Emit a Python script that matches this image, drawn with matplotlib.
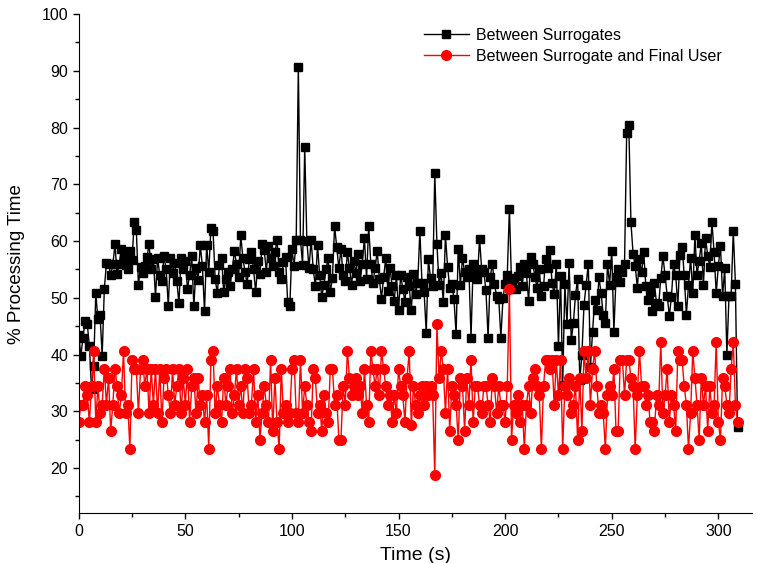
import numpy as np
import matplotlib
matplotlib.use("Agg")
import matplotlib.pyplot as plt
from matplotlib.ticker import MultipleLocator

plt.rcParams["font.family"] = ["Liberation Sans", "DejaVu Sans"]

# time in seconds, one sample per second
time_s = np.arange(310)

# % processing time between surrogates
between_surrogates = [
    43.5, 39.8, 43.0, 46.0, 45.4, 41.5, 34.0, 38.0, 50.8, 46.2,
    47.0, 39.8, 51.5, 56.2, 56.0, 54.0, 55.9, 59.4, 54.2, 56.0,
    58.6, 57.0, 55.8, 55.0, 58.2, 56.6, 63.3, 62.0, 52.3, 55.5,
    54.3, 55.6, 57.2, 59.4, 55.0, 56.8, 50.2, 57.0, 54.0, 53.0,
    57.3, 55.0, 48.6, 57.0, 54.3, 56.2, 53.0, 49.0, 57.0, 55.0,
    56.5, 51.6, 54.0, 57.3, 48.5, 55.2, 53.2, 59.3, 55.6, 47.6,
    59.3, 54.6, 62.3, 61.8, 53.3, 50.8, 55.8, 57.0, 51.0, 53.4,
    54.6, 52.1, 55.0, 58.2, 56.0, 53.6, 61.0, 57.0, 54.6, 52.5,
    56.8, 58.0, 55.0, 51.0, 56.5, 54.2, 59.4, 58.4, 54.6, 59.2,
    57.0, 55.6, 58.0, 60.2, 54.6, 53.4, 56.3, 57.2, 49.2, 48.5,
    58.6, 55.6, 60.2, 90.7, 60.2, 55.8, 76.6, 60.0, 55.2, 60.2,
    55.0, 52.0, 59.3, 54.0, 50.2, 52.3, 55.0, 57.0, 51.0, 53.5,
    62.6, 59.0, 55.2, 58.6, 54.0, 53.0, 58.0, 55.2, 52.3, 56.5,
    54.3, 57.8, 53.0, 56.0, 60.6, 53.4, 62.6, 56.0, 52.6, 55.3,
    58.2, 53.4, 49.8, 53.6, 57.0, 51.2, 55.3, 52.0, 49.5, 54.0,
    47.8, 54.0, 51.6, 49.3, 53.7, 52.0, 47.9, 54.2, 50.7, 52.6,
    61.8, 52.6, 51.0, 43.8, 56.8, 53.5, 52.0, 72.0, 59.5, 52.3,
    54.3, 49.2, 61.0, 55.5, 51.8, 52.5, 49.8, 43.6, 58.6, 52.3,
    57.0, 54.5, 53.7, 55.0, 43.0, 56.0, 54.3, 53.3, 60.4, 55.0,
    54.6, 51.3, 43.0, 53.7, 56.0, 52.4, 50.3, 49.8, 43.0, 50.0,
    52.5, 54.0, 65.7, 52.4, 53.5, 51.6, 53.8, 55.4, 52.0, 56.0,
    54.3, 49.4, 57.2, 56.0, 53.6, 51.8, 55.0, 50.3, 52.0, 56.8,
    55.2, 58.4, 52.6, 50.6, 56.0, 41.5, 53.8, 34.6, 52.4, 45.4,
    56.2, 42.5, 45.5, 50.5, 53.4, 35.5, 40.0, 48.8, 52.3, 56.0,
    37.8, 44.0, 49.6, 47.8, 53.6, 50.8, 47.0, 45.6, 56.0, 52.3,
    58.3, 44.0, 53.6, 55.0, 52.8, 54.6, 56.0, 79.0, 80.5, 63.3,
    57.8, 55.6, 51.8, 56.8, 54.5, 58.0, 52.0, 49.6, 51.0, 47.6,
    52.6, 49.0, 48.6, 53.5, 57.3, 54.0, 50.4, 46.8, 50.2, 56.0,
    54.0, 48.5, 57.6, 59.0, 54.0, 47.0, 52.2, 57.0, 50.8, 61.0,
    54.0, 56.5, 59.6, 52.2, 60.6, 57.4, 55.5, 63.4, 58.0, 50.8,
    55.6, 59.2, 50.3, 55.2, 40.0, 50.3, 50.4, 61.8, 52.5, 27.3,
]

# % processing time between surrogate and final user
surrogate_to_user = [
    28.1, 31.2, 31.2, 34.4, 32.8, 28.1, 34.4, 40.6, 28.1, 34.4,
    29.7, 31.2, 37.5, 31.2, 35.9, 26.6, 31.2, 37.5, 34.4, 29.7,
    32.8, 40.6, 29.7, 31.2, 23.4, 39.1, 37.5, 37.5, 29.7, 37.5,
    39.1, 34.4, 37.5, 29.7, 37.5, 31.2, 37.5, 29.7, 37.5, 28.1,
    35.9, 37.5, 32.8, 29.7, 37.5, 31.2, 34.4, 37.5, 29.7, 35.9,
    31.2, 37.5, 28.1, 34.4, 35.9, 29.7, 35.9, 31.2, 32.8, 28.1,
    32.8, 23.4, 39.1, 40.6, 29.7, 34.4, 31.2, 28.1, 35.9, 31.2,
    34.4, 37.5, 29.7, 32.8, 37.5, 31.2, 34.4, 29.7, 37.5, 35.9,
    29.7, 31.2, 37.5, 28.1, 32.8, 25.0, 29.7, 34.4, 31.2, 28.1,
    39.1, 26.6, 35.9, 28.1, 23.4, 37.5, 29.7, 31.2, 28.1, 29.7,
    37.5, 39.1, 29.7, 28.1, 39.1, 29.7, 34.4, 31.2, 28.1, 26.6,
    37.5, 35.9, 29.7, 31.2, 26.6, 32.8, 29.7, 28.1, 37.5, 37.5,
    31.2, 32.8, 25.0, 25.0, 34.4, 31.2, 40.6, 35.9, 32.8, 34.4,
    35.9, 32.8, 34.4, 29.7, 37.5, 31.2, 28.1, 40.6, 37.5, 34.4,
    37.5, 32.8, 40.6, 37.5, 34.4, 31.2, 32.8, 28.1, 32.8, 29.7,
    37.5, 34.4, 32.8, 28.1, 35.9, 40.6, 27.5, 34.4, 31.2, 29.7,
    32.8, 34.4, 31.2, 34.4, 32.8, 34.4, 32.8, 18.8, 45.3, 35.9,
    40.6, 37.5, 29.7, 37.5, 26.6, 34.4, 32.8, 31.2, 25.0, 35.9,
    34.4, 26.6, 35.9, 31.2, 39.1, 28.1, 34.4, 34.4, 31.2, 29.7,
    34.4, 34.4, 31.2, 28.1, 35.9, 34.4, 29.7, 34.4, 31.2, 31.2,
    28.1, 34.4, 51.6, 25.0, 31.2, 29.7, 32.8, 28.1, 31.2, 23.4,
    31.2, 34.4, 29.7, 35.9, 37.5, 34.4, 32.8, 23.4, 34.4, 39.1,
    39.1, 37.5, 39.1, 31.2, 39.1, 32.8, 39.1, 23.4, 34.4, 32.8,
    35.9, 29.7, 31.2, 34.4, 25.0, 35.9, 26.6, 40.6, 35.9, 40.6,
    31.2, 37.5, 40.6, 34.4, 29.7, 31.2, 29.7, 23.4, 32.8, 34.4,
    32.8, 37.5, 26.6, 26.6, 39.1, 39.1, 32.8, 39.1, 39.1, 35.9,
    34.4, 23.4, 32.8, 40.6, 34.4, 34.4, 31.2, 32.8, 28.1, 28.1,
    26.6, 32.8, 31.2, 42.2, 29.7, 32.8, 37.5, 28.1, 32.8, 31.2,
    26.6, 40.6, 39.1, 39.1, 34.4, 31.2, 23.4, 29.7, 40.6, 35.9,
    31.2, 25.0, 35.9, 31.2, 34.4, 26.6, 34.4, 29.7, 31.2, 42.2,
    28.1, 25.0, 35.9, 34.4, 31.2, 29.7, 37.5, 42.2, 31.2, 28.1,
]

fig = plt.figure(figsize=(7.57, 5.63), dpi=100)
ax = fig.add_axes([0.104, 0.088, 0.890, 0.887])

ax.plot(time_s, between_surrogates, color="black", lw=1.0, marker="s",
        markersize=6, label="Between Surrogates")
ax.plot(time_s, surrogate_to_user, color="red", lw=1.0, marker="o",
        markersize=7, label="Between Surrogate and Final User")

ax.set_xlim(0, 316)
ax.set_ylim(12, 100)
ax.xaxis.set_major_locator(MultipleLocator(50))
ax.xaxis.set_minor_locator(MultipleLocator(25))
ax.yaxis.set_major_locator(MultipleLocator(10))
ax.yaxis.set_minor_locator(MultipleLocator(5))
ax.tick_params(which="major", direction="out", length=4, width=1, labelsize=11.5)
ax.tick_params(which="minor", direction="out", length=3, width=1)

ax.spines["top"].set_visible(False)
ax.spines["right"].set_visible(False)

ax.set_xlabel("Time (s)", fontsize=14, labelpad=6)
ax.set_ylabel("% Processing Time", fontsize=13.5, labelpad=12)

ax.legend(loc="upper left", bbox_to_anchor=(424 / 757, 1 - 28 / 563),
          bbox_transform=fig.transFigure, frameon=False, fontsize=11.5,
          handlelength=2.8, handletextpad=0.45, borderpad=0,
          borderaxespad=0, labelspacing=0.35)

fig.savefig("out.png", dpi=100)
